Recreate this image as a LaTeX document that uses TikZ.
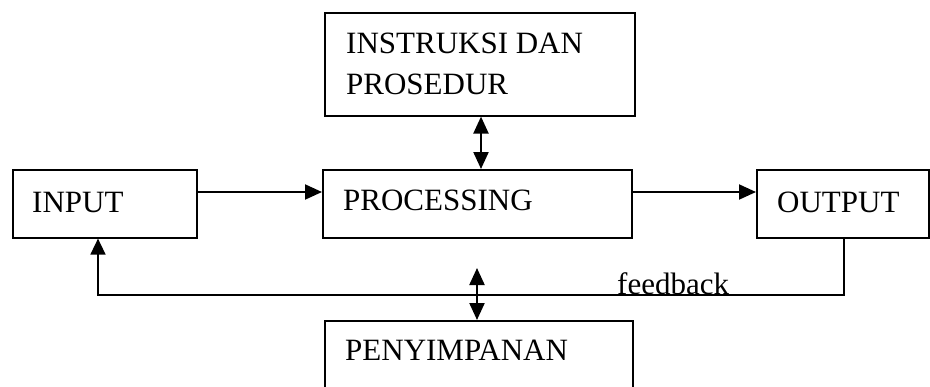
\documentclass[tikz,border=0pt]{standalone}
\usepackage{fontspec}
\setmainfont{Liberation Serif}
\usetikzlibrary{arrows.meta}
\begin{document}
\begin{tikzpicture}[x=1pt,y=-1pt,
  box/.style={draw, line width=1.6pt, inner sep=0pt, anchor=north west},
  lbl/.style={anchor=base west, inner sep=0pt, font=\fontsize{31}{31}\selectfont},
  conn/.style={line width=2pt, -{Triangle[length=17pt,width=15pt]}},
  bi/.style={line width=2.2pt, {Triangle[length=17pt,width=15pt]}-{Triangle[length=17pt,width=15pt]}},
  fb/.style={line width=1.6pt}]
\useasboundingbox (0,0) rectangle (930,386);
\clip (0,0) rectangle (930,386);
% boxes
\node[box, minimum width=310pt, minimum height=103pt] (ins) at (324,12) {};
\node[box, minimum width=184pt, minimum height=68pt] (inp) at (12,169) {};
\node[box, minimum width=309pt, minimum height=68pt] (proc) at (322,169) {};
\node[box, minimum width=172pt, minimum height=68pt] (out) at (756,169) {};
\node[box, minimum width=308pt, minimum height=100pt] (pen) at (324,320) {};
% labels
\node[lbl] (tins1) at (346,53) {INSTRUKSI DAN};
\node[lbl] (tins2) at (346,94) {PROSEDUR};
\node[lbl] (tinp) at (32,212) {INPUT};
\node[lbl] (tproc) at (343,210) {PROCESSING};
\node[lbl] (tout) at (777,212) {OUTPUT};
\node[lbl] (tpen) at (345,360) {PENYIMPANAN};
\node[lbl] (tfb) at (617,294) {feedback};
% helper coordinates
\coordinate (row) at (0,192);
\coordinate (c1) at (481,0);
\coordinate (fbr) at (844,295);
\coordinate (fbl) at (98,295);
\coordinate (st) at (477,268);
% connectors
\draw[conn] (inp.east |- row) -- (proc.west |- row);
\draw[conn] (proc.east |- row) -- (out.west |- row);
\draw[bi] (ins.south -| c1) -- (proc.north -| c1);
\draw[fb, -{Triangle[length=16pt,width=15pt]}] (out.south -| fbr) -- (fbr) -- (fbl) -- (inp.south -| fbl);
\draw[bi] (st) -- (pen.north -| st);
\end{tikzpicture}
\end{document}
